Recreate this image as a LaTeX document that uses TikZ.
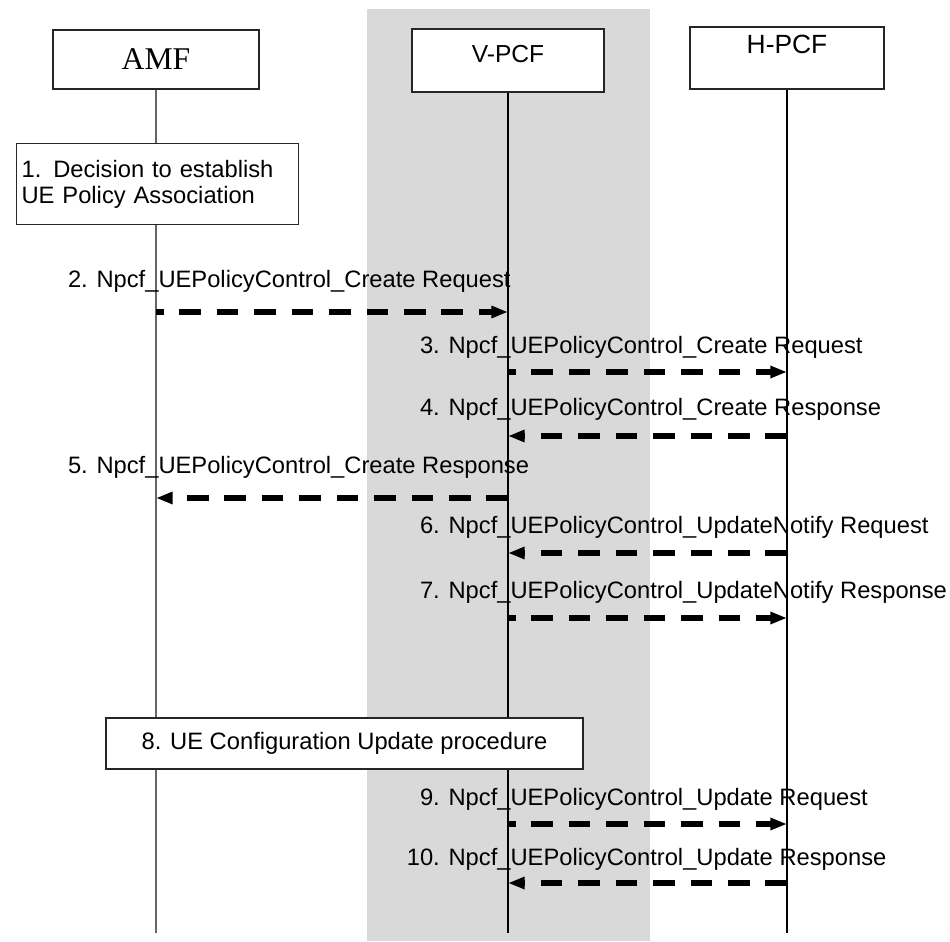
\documentclass[tikz,border=0pt]{standalone}
\usepackage{fontspec}
\setmainfont{Liberation Sans}
\newfontfamily\amffont{Liberation Serif}
\usetikzlibrary{calc,arrows.meta}
\definecolor{bandgray}{RGB}{217,217,217}
\tikzset{
  headbox/.style={draw=black!85, fill=white, line width=0.8pt, inner sep=0pt},
  stepbox/.style={draw=black!85, fill=white, line width=0.7pt, font=\fontsize{13.5}{14.8}\selectfont},
  lifeline/.style={line width=0.7pt},
  msg/.style={line width=3.2pt, dash pattern=on 12.3pt off 9pt, -{Triangle[length=9.5pt,width=6.6pt]}},
  fwdmsg/.style={msg, dash phase=8pt},
  msglabel/.style={anchor=base west, inner sep=0pt, font=\fontsize{13.5}{14.8}\selectfont},
}
\begin{document}
\begin{tikzpicture}
  \useasboundingbox (0,0) rectangle (19,-18.82);
  \fill[bandgray] (7.34,-0.18) rectangle (13.0,-18.82);
  % heads
  \node[headbox, minimum width=4.12cm, minimum height=1.18cm, font=\amffont\fontsize{18}{20}\selectfont] (amf) at (3.12,-1.19) {AMF};
  \node[headbox, minimum width=3.84cm, minimum height=1.26cm,
        label={[yshift=0.12cm, font=\fontsize{14}{16}\selectfont]center:V-PCF}] (vpcf) at (10.16,-1.21) {};
  \node[headbox, minimum width=3.88cm, minimum height=1.24cm,
        label={[yshift=0.28cm, font=\fontsize{15}{17}\selectfont]center:H-PCF}] (hpcf) at (15.74,-1.16) {};
  % lifelines
  \draw[lifeline, black!60] (amf.south) -- (amf.south |- 0,-18.66);
  \draw[lifeline] (vpcf.south) -- (vpcf.south |- 0,-18.66);
  \draw[lifeline] (hpcf.south) -- (hpcf.south |- 0,-18.66);
  % local steps
  \node[stepbox, anchor=north west, minimum width=5.64cm, minimum height=1.62cm, text width=5.44cm,
        inner xsep=0.1cm, align=left] (decide) at (0.32,-2.86) {1. Decision to establish\\UE Policy Association};
  \node[stepbox, minimum width=9.54cm, minimum height=1.02cm] (ucu) at (6.89,-14.87) {8. UE Configuration Update procedure};
  % messages
  \node[msglabel] (l2) at (1.353,-5.74) {2. Npcf\_UEPolicyControl\_Create Request};
  \draw[fwdmsg] (amf |- 0,-6.24) -- (vpcf |- 0,-6.24);
  \node[msglabel] (l3) at (8.393,-7.06) {3. Npcf\_UEPolicyControl\_Create Request};
  \draw[fwdmsg] (vpcf |- 0,-7.44) -- (hpcf |- 0,-7.44);
  \node[msglabel] (l4) at (8.393,-8.30) {4. Npcf\_UEPolicyControl\_Create Response};
  \draw[msg] (hpcf |- 0,-8.72) -- (vpcf |- 0,-8.72);
  \node[msglabel] (l5) at (1.353,-9.46) {5. Npcf\_UEPolicyControl\_Create Response};
  \draw[msg] (vpcf |- 0,-9.96) -- (amf |- 0,-9.96);
  \node[msglabel] (l6) at (8.393,-10.66) {6. Npcf\_UEPolicyControl\_UpdateNotify Request};
  \draw[msg] (hpcf |- 0,-11.06) -- (vpcf |- 0,-11.06);
  \node[msglabel] (l7) at (8.393,-11.96) {7. Npcf\_UEPolicyControl\_UpdateNotify Response};
  \draw[fwdmsg] (vpcf |- 0,-12.36) -- (hpcf |- 0,-12.36);
  \node[msglabel] (l9) at (8.393,-16.10) {9. Npcf\_UEPolicyControl\_Update Request};
  \draw[fwdmsg] (vpcf |- 0,-16.48) -- (hpcf |- 0,-16.48);
  \node[msglabel] (l10) at (8.13,-17.30) {10. Npcf\_UEPolicyControl\_Update Response};
  \draw[msg] (hpcf |- 0,-17.66) -- (vpcf |- 0,-17.66);
\end{tikzpicture}
\end{document}
